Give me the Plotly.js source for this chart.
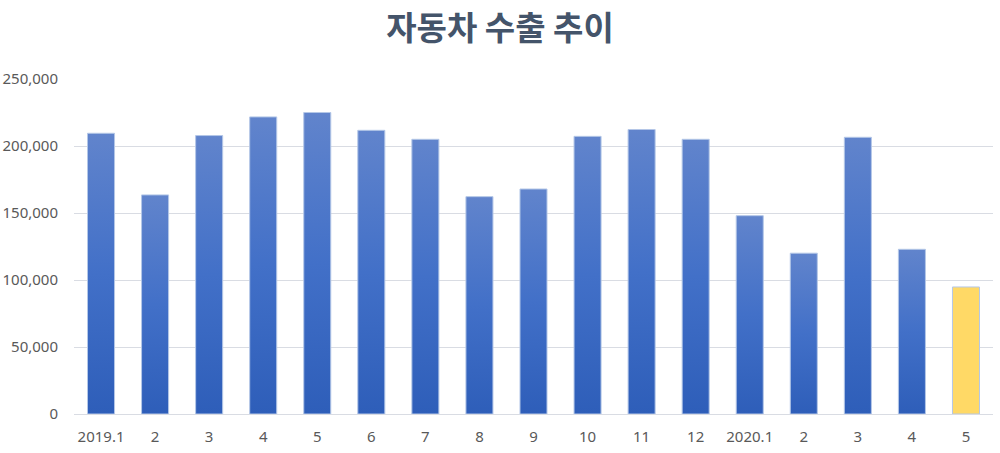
<!DOCTYPE html>
<html>
<head>
<meta charset="utf-8">
<script src="https://cdn.plot.ly/plotly-3.0.1.min.js"></script>
<style>html,body{margin:0;padding:0;background:#fff;}#chart{width:1000px;height:453px;}</style>
</head>
<body>
<div id="chart"></div>
<script>
const categories = ["2019.1","2","3","4","5","6","7","8","9","10","11","12","2020.1","2 ","3 ","4 ","5 "];
const tickLabels = ["2019.1","2","3","4","5","6","7","8","9","10","11","12","2020.1","2","3","4","5"];
const exports = [209500,163500,207800,221700,225000,211700,205000,162200,167900,207200,212300,205000,148000,120000,206500,122900,94800];
const highlightIndex = 16;

const blue = "#4472C4";
const yellow = "#FFD966";
const colors = exports.map((v,i)=> i===highlightIndex ? yellow : blue);

const trace = {
  type: "bar",
  x: categories,
  y: exports,
  marker: {color: colors, line: {color: "#B4C7E7", width: 1}},
  hoverinfo: "x+y"
};

const layout = {
  width: 1000, height: 453,
  margin: {l: 74, r: 7, t: 79, b: 39},
  paper_bgcolor: "#fff", plot_bgcolor: "#fff",
  bargap: 0.5,
  showlegend: false,
  title: {
    text: "<b>자동차 수출 추이</b>",
    x: 0.5, xref: "container", xanchor: "center",
    y: 1 - 28/453, yref: "container", yanchor: "middle",
    font: {family: "Noto Sans CJK KR", size: 33, color: "#44546A"}
  },
  xaxis: {
    type: "category",
    tickvals: categories,
    ticktext: tickLabels,
    showgrid: false,
    showline: true, linecolor: "#D9DCE3", linewidth: 1,
    ticks: "",
    tickfont: {family: "Noto Sans", size: 15, color: "#595959"},
    ticklabelstandoff: 9
  },
  yaxis: {
    range: [0, 250000],
    tickvals: [0,50000,100000,150000,200000,250000],
    tickformat: ",d",
    showgrid: true, gridcolor: "#D9DCE3", gridwidth: 1,
    zeroline: false,
    showline: false,
    ticks: "",
    tickfont: {family: "Noto Sans", size: 15, color: "#595959"},
    ticklabelstandoff: 15
  }
};

Plotly.newPlot("chart", [trace], layout, {displayModeBar: false, staticPlot: true}).then(gd => {
  const svg = gd.querySelector("svg.main-svg");
  const ns = "http://www.w3.org/2000/svg";
  let defs = svg.querySelector("defs");
  if (!defs) { defs = document.createElementNS(ns, "defs"); svg.insertBefore(defs, svg.firstChild); }
  const lg = document.createElementNS(ns, "linearGradient");
  lg.setAttribute("id", "barGrad");
  lg.setAttribute("x1", "0"); lg.setAttribute("y1", "0");
  lg.setAttribute("x2", "0"); lg.setAttribute("y2", "1");
  [["0", "#6184CC"], ["0.5", "#4270C8"], ["1", "#2E5EB9"]].forEach(([o,c]) => {
    const s = document.createElementNS(ns, "stop");
    s.setAttribute("offset", o); s.setAttribute("stop-color", c);
    lg.appendChild(s);
  });
  defs.appendChild(lg);
  const paths = gd.querySelectorAll(".trace.bars .point path");
  paths.forEach((p, i) => {
    if (i !== highlightIndex) p.style.fill = "url(#barGrad)";
  });
});
</script>
</body>
</html>
